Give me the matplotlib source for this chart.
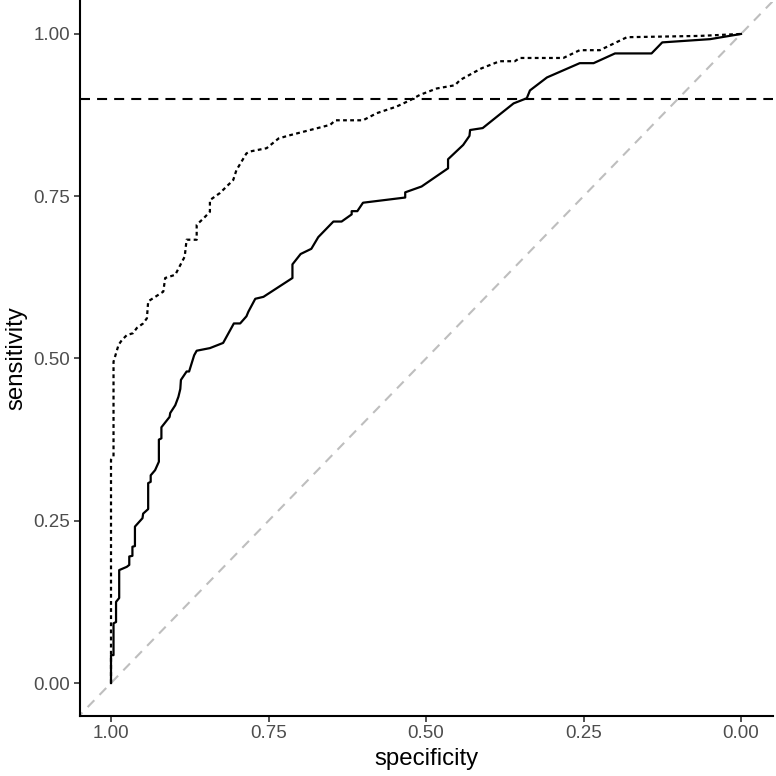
import matplotlib
matplotlib.use("Agg")
import matplotlib.pyplot as plt

# ROC curve 1 (solid)
spec_a = [1.000, 1.000, 0.996, 0.996, 0.992, 0.992, 0.987, 0.987, 0.975, 0.971,
          0.971, 0.966, 0.966, 0.962, 0.962, 0.950, 0.949, 0.941, 0.941, 0.937,
          0.937, 0.930, 0.924, 0.924, 0.920, 0.920, 0.907, 0.906, 0.898, 0.893,
          0.890, 0.889, 0.880, 0.876, 0.868, 0.864, 0.843, 0.822, 0.805, 0.795,
          0.785, 0.782, 0.771, 0.758, 0.712, 0.712, 0.699, 0.682, 0.671, 0.647,
          0.634, 0.618, 0.618, 0.609, 0.600, 0.533, 0.533, 0.507, 0.465, 0.465,
          0.441, 0.431, 0.430, 0.410, 0.383, 0.361, 0.340, 0.335, 0.308, 0.256,
          0.234, 0.200, 0.142, 0.125, 0.049, 0.000]
sens_a = [0.000, 0.043, 0.043, 0.092, 0.094, 0.125, 0.131, 0.174, 0.179, 0.182,
          0.195, 0.196, 0.210, 0.211, 0.241, 0.254, 0.261, 0.268, 0.308, 0.310,
          0.320, 0.328, 0.341, 0.375, 0.377, 0.394, 0.410, 0.416, 0.428, 0.441,
          0.453, 0.467, 0.480, 0.480, 0.505, 0.512, 0.516, 0.524, 0.554, 0.554,
          0.565, 0.572, 0.592, 0.595, 0.624, 0.645, 0.661, 0.669, 0.687, 0.711,
          0.711, 0.722, 0.727, 0.727, 0.740, 0.748, 0.756, 0.765, 0.793, 0.807,
          0.829, 0.843, 0.852, 0.855, 0.876, 0.893, 0.901, 0.913, 0.933, 0.955,
          0.955, 0.970, 0.970, 0.987, 0.992, 1.000]

# ROC curve 2 (dotted)
spec_b = [1.000, 1.000, 0.996, 0.996, 0.988, 0.983, 0.975, 0.965, 0.959, 0.949,
          0.943, 0.941, 0.917, 0.914, 0.898, 0.883, 0.880, 0.864, 0.864, 0.853,
          0.843, 0.843, 0.827, 0.806, 0.801, 0.785, 0.779, 0.753, 0.734, 0.716,
          0.652, 0.644, 0.600, 0.578, 0.547, 0.525, 0.510, 0.483, 0.454, 0.446,
          0.412, 0.383, 0.359, 0.351, 0.282, 0.256, 0.224, 0.181, 0.065, 0.000]
sens_b = [0.000, 0.344, 0.349, 0.495, 0.521, 0.528, 0.536, 0.539, 0.547, 0.554,
          0.562, 0.588, 0.603, 0.624, 0.629, 0.657, 0.683, 0.683, 0.706, 0.716,
          0.726, 0.744, 0.755, 0.775, 0.790, 0.816, 0.819, 0.824, 0.839, 0.844,
          0.860, 0.867, 0.867, 0.878, 0.888, 0.898, 0.906, 0.916, 0.921, 0.929,
          0.947, 0.958, 0.958, 0.963, 0.963, 0.975, 0.975, 0.995, 0.997, 1.000]

threshold = 0.9
ticks = [0.0, 0.25, 0.5, 0.75, 1.0]
tick_labels = ["0.00", "0.25", "0.50", "0.75", "1.00"]

plt.rcParams["font.family"] = ["Liberation Sans", "DejaVu Sans"]

fig = plt.figure(figsize=(7.76, 7.76), dpi=100)
ax = fig.add_axes([79.5 / 776, 60.5 / 776, 693 / 776, 714 / 776])

ax.axline((1, 0), (0, 1), color="#BEBEBE", lw=1.5, dashes=(4.6, 3.6), zorder=1)
ax.axhline(threshold, color="black", lw=1.5, dashes=(4.8, 3.4), zorder=2)
ax.plot(spec_a, sens_a, color="black", lw=1.6, solid_joinstyle="round", zorder=3)
ax.plot(spec_b, sens_b, color="black", lw=1.6, dashes=(1.7, 1.5), zorder=3)

ax.set_xlim(1.05, -0.05)
ax.set_ylim(-0.05, 1.05)
ax.set_xticks(ticks)
ax.set_xticklabels(tick_labels)
ax.set_yticks(ticks)
ax.set_yticklabels(tick_labels)

for side in ["top", "right"]:
    ax.spines[side].set_visible(False)
for side in ["left", "bottom"]:
    ax.spines[side].set_linewidth(1.5)
    ax.spines[side].set_color("black")

ax.tick_params(length=4, width=1.2, color="#333333", labelsize=13.5,
               labelcolor="#4D4D4D", pad=3)
ax.set_xlabel("specificity", fontsize=17.3, labelpad=4)
ax.set_ylabel("sensitivity", fontsize=17.3, labelpad=4)

fig.savefig("out.png", dpi=100)
